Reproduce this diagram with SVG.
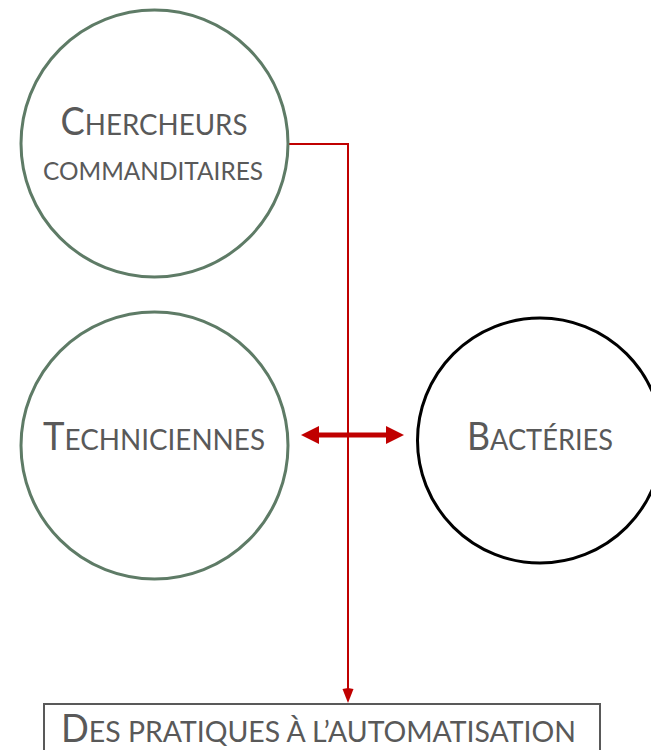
<svg xmlns="http://www.w3.org/2000/svg" width="651" height="750" viewBox="0 0 651 750">
<defs>
<style>
.g{fill:#fff;stroke:#5e7b66;stroke-width:3}
.b{fill:#fff;stroke:#000;stroke-width:3}
.t{font-family:Lato,"Liberation Sans",sans-serif;fill:#595959;text-anchor:middle}
.red{fill:none;stroke:#c00000;stroke-width:2}
</style>
</defs>
<g id="connectors">
<path class="red" d="M289,144H348V689"/>
<path d="M348,688L342.5,689L348,703L353.5,689Z" fill="#c00000"/>
<path d="M318,435H387" stroke="#c00000" stroke-width="5"/>
<path d="M301,435L319,426V444Z" fill="#c00000"/>
<path d="M404,435L386,426V444Z" fill="#c00000"/>
</g>
<g id="chercheurs">
<circle class="g" cx="154.5" cy="143.5" r="133.5"/>
<text class="t" x="154" y="135" textLength="187" lengthAdjust="spacingAndGlyphs"><tspan font-size="38">C</tspan><tspan font-size="29">HERCHEURS</tspan></text>
<text class="t" x="153" y="180" font-size="24.5" textLength="220" lengthAdjust="spacingAndGlyphs">COMMANDITAIRES</text>
</g>
<g id="techniciennes">
<circle class="g" cx="154.5" cy="445.5" r="133.5"/>
<text class="t" x="154" y="450" textLength="222" lengthAdjust="spacingAndGlyphs"><tspan font-size="38">T</tspan><tspan font-size="29">ECHNICIENNES</tspan></text>
</g>
<g id="bacteries">
<circle class="b" cx="540" cy="440.5" r="122.5"/>
<text class="t" x="540" y="450" textLength="146" lengthAdjust="spacingAndGlyphs"><tspan font-size="38">B</tspan><tspan font-size="29">ACTÉRIES</tspan></text>
</g>
<g id="pratiques">
<rect x="44" y="704" width="556" height="60" fill="#fff" stroke="#595959" stroke-width="2"/>
<text class="t" x="318.5" y="742" textLength="515" lengthAdjust="spacingAndGlyphs"><tspan font-size="38">D</tspan><tspan font-size="29.5">ES PRATIQUES À L’AUTOMATISATION</tspan></text>
</g>
</svg>
